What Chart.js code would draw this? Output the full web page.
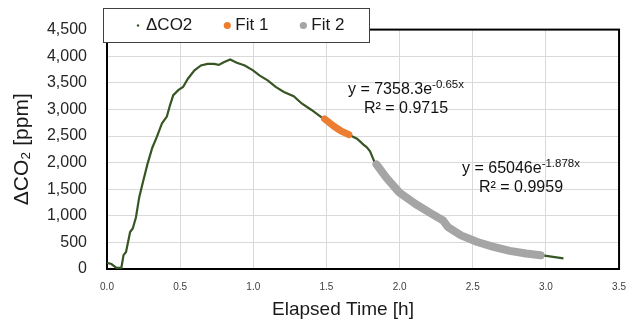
<!DOCTYPE html>
<html>
<head>
<meta charset="utf-8">
<script src="https://cdn.jsdelivr.net/npm/chart.js@4.4.0/dist/chart.umd.min.js"></script>
<style>
    html, body { margin: 0; padding: 0; background: #fff; }
    #wrap { width: 638px; height: 326px; }
</style>
</head>
<body>
<div id="wrap"><canvas id="co2Chart"></canvas></div>
<script>
// Values: elapsed time [h] and ΔCO2 [ppm]
const timeH = [0, 0.03, 0.065, 0.098, 0.113, 0.13, 0.158, 0.176, 0.198, 0.22, 0.242, 0.276, 0.309, 0.342,
    0.376, 0.409, 0.431, 0.453, 0.487, 0.52, 0.553, 0.598, 0.642, 0.687, 0.731, 0.764, 0.798, 0.842,
    0.887, 0.942, 0.998, 1.042, 1.098, 1.153, 1.209, 1.276, 1.331, 1.398, 1.476, 1.553, 1.653, 1.709,
    1.753, 1.776, 1.798, 1.831, 1.842, 1.909, 1.998, 2.109, 2.22, 2.298, 2.331, 2.42, 2.531, 2.642,
    2.753, 2.864, 2.964, 2.99, 3.12];
const deltaCO2 = [117, 93, 20, 20, 260, 320, 694, 762, 973, 1345, 1594, 1966, 2275, 2492,
    2740, 2864, 3082, 3268, 3361, 3422, 3577, 3733, 3826, 3856, 3856, 3837, 3887, 3938,
    3875, 3826, 3733, 3640, 3547, 3422, 3329, 3249, 3112, 2989, 2833, 2678, 2524, 2449,
    2338, 2288, 2213, 1996, 1966, 1717, 1438, 1222, 1036, 911, 787, 632, 508, 415,
    341, 292, 260, 250, 199];

// Points used for the two exponential fits
const fit1Time = [1.487, 1.553, 1.598, 1.653];
const fit1CO2 = [2822, 2678, 2598, 2524];
const fit2Time = [1.842, 1.909, 1.998, 2.109, 2.22, 2.298, 2.331, 2.42, 2.531, 2.642, 2.753, 2.864, 2.964];
const fit2CO2 = [1966, 1717, 1438, 1222, 1036, 911, 787, 632, 508, 415, 341, 292, 260];

const seriesNames = ['ΔCO2', 'Fit 1', 'Fit 2'];
const seriesColors = ['#375623', '#ED7D31', '#A5A5A5'];

// Trendline labels
const fitEquations = ['y = 7358.3e', 'y = 65046e'];
const fitExponents = ['-0.65x', '-1.878x'];
const fitR2 = ['R² = 0.9715', 'R² = 0.9959'];

const FONT = "'Liberation Sans', Arial, sans-serif";
Chart.defaults.font.family = FONT;

function toPoints(xs, ys) {
    return xs.map((x, i) => ({ x: x, y: ys[i] }));
}

// draws plot frame, legend box, trendline equations and x axis title
const decorations = {
    id: 'decorations',
    beforeDatasetsDraw(chart) {
        const { ctx, chartArea: a } = chart;
        ctx.save();
        ctx.strokeStyle = '#000';
        ctx.lineWidth = 2;
        ctx.strokeRect(a.left, a.top, a.right - a.left, a.bottom - a.top);
        ctx.restore();
    },
    afterDraw(chart) {
        const ctx = chart.ctx;
        ctx.save();

        // legend
        ctx.fillStyle = '#fff';
        ctx.fillRect(103.5, 8.5, 266, 34);
        ctx.strokeStyle = '#404040';
        ctx.lineWidth = 1;
        ctx.strokeRect(103.5, 8.5, 266, 34);
        const dotSize = [1.2, 3.6, 3.6];
        let lx = 138;
        const ly = 25.5;
        ctx.font = '17px ' + FONT;
        ctx.textBaseline = 'middle';
        chart.data.datasets.forEach((ds, i) => {
            ctx.beginPath();
            ctx.arc(lx, ly, dotSize[i], 0, Math.PI * 2);
            ctx.fillStyle = ds.borderColor;
            ctx.fill();
            ctx.fillStyle = '#1a1a1a';
            ctx.fillText(ds.label, lx + 8, ly);
            lx += 8 + ctx.measureText(ds.label).width + 35;
        });

        // trendline equations
        const eqPos = [
            { cx: 406, y1: 93.5, y2: 112.5 },
            { cx: 521, y1: 173, y2: 192 }
        ];
        ctx.textBaseline = 'alphabetic';
        eqPos.forEach((p, i) => {
            ctx.font = '16px ' + FONT;
            const w1 = ctx.measureText(fitEquations[i]).width;
            ctx.font = '11.5px ' + FONT;
            const w2 = ctx.measureText(fitExponents[i]).width;
            const x0 = p.cx - (w1 + w2) / 2;
            ctx.fillStyle = '#111';
            ctx.textAlign = 'left';
            ctx.font = '16px ' + FONT;
            ctx.fillText(fitEquations[i], x0, p.y1);
            ctx.font = '11.5px ' + FONT;
            ctx.fillText(fitExponents[i], x0 + w1, p.y1 - 6);
            ctx.font = '16px ' + FONT;
            ctx.textAlign = 'center';
            ctx.fillText(fitR2[i], p.cx, p.y2);
        });

        // x axis title
        ctx.font = '19px ' + FONT;
        ctx.textAlign = 'center';
        ctx.textBaseline = 'middle';
        ctx.fillStyle = '#1a1a1a';
        ctx.fillText('Elapsed Time [h]', 343, 310);
        ctx.restore();
    }
};

new Chart(document.getElementById('co2Chart'), {
    type: 'scatter',
    data: {
        datasets: [{
            label: seriesNames[0],
            data: toPoints(timeH, deltaCO2),
            showLine: true,
            borderColor: seriesColors[0],
            backgroundColor: seriesColors[0],
            borderWidth: 2.2,
            pointRadius: 0,
            order: 2
        }, {
            label: seriesNames[1],
            data: toPoints(fit1Time, fit1CO2),
            showLine: true,
            borderColor: seriesColors[1],
            backgroundColor: seriesColors[1],
            borderWidth: 7,
            borderCapStyle: 'round',
            borderJoinStyle: 'round',
            pointRadius: 0,
            order: 1
        }, {
            label: seriesNames[2],
            data: toPoints(fit2Time, fit2CO2),
            showLine: true,
            borderColor: seriesColors[2],
            backgroundColor: seriesColors[2],
            borderWidth: 8,
            borderCapStyle: 'round',
            borderJoinStyle: 'round',
            pointRadius: 0,
            order: 1
        }]
    },
    options: {
        responsive: true,
        maintainAspectRatio: false,
        animation: false,
        devicePixelRatio: 1,
        layout: { padding: { left: 0, right: 6, top: 27, bottom: 0 } },
        plugins: {
            legend: { display: false },
            tooltip: { enabled: false }
        },
        scales: {
            x: {
                type: 'linear',
                min: 0,
                max: 3.5,
                ticks: {
                    stepSize: 0.5,
                    callback: v => v.toFixed(1),
                    font: { size: 10 },
                    color: '#404040',
                    padding: 12,
                    maxRotation: 0
                },
                grid: { color: '#D9D9D9', drawTicks: false },
                border: { color: '#000', width: 2 },
                afterFit: s => { s.height = 57; }
            },
            y: {
                min: 0,
                max: 4500,
                ticks: {
                    stepSize: 500,
                    callback: v => v.toLocaleString('en-US'),
                    font: { size: 16 },
                    color: '#262626',
                    padding: 20
                },
                grid: { color: '#D9D9D9', drawTicks: false },
                border: { color: '#000', width: 2 },
                title: {
                    display: true,
                    text: 'ΔCO₂ [ppm]',
                    font: { size: 21 },
                    color: '#1a1a1a',
                    padding: { top: 10, bottom: 0 }
                },
                afterFit: s => { s.width = 107; }
            }
        }
    },
    plugins: [decorations]
});
</script>
</body>
</html>
